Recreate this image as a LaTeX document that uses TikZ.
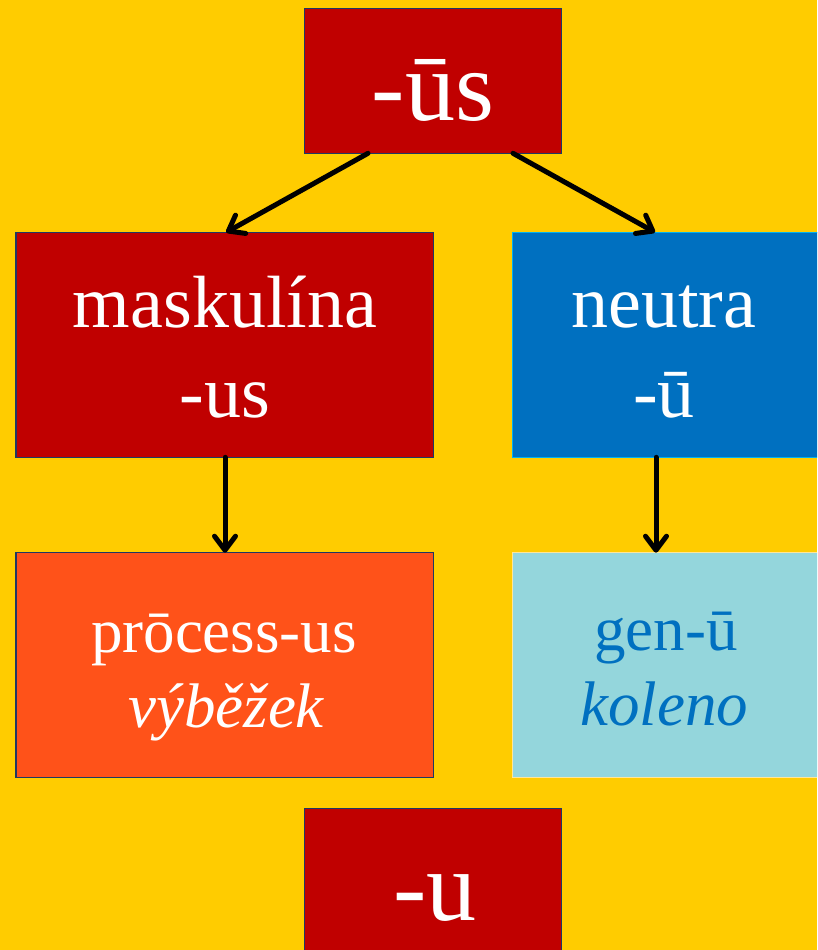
\documentclass[tikz,border=0pt]{standalone}
\usepackage{fontspec}
\setmainfont{Liberation Serif}
\usetikzlibrary{arrows.meta,calc}
\definecolor{bgyellow}{RGB}{255,204,0}
\definecolor{darkred}{RGB}{192,0,0}
\definecolor{midblue}{RGB}{0,112,192}
\definecolor{orangered}{RGB}{255,82,25}
\definecolor{paleblue}{RGB}{148,214,220}
\definecolor{navyedge}{RGB}{31,56,100}
\definecolor{cyanedge}{RGB}{0,176,240}
\definecolor{paleyellowedge}{RGB}{255,230,153}
\tikzset{
  boxnode/.style={rectangle, draw=navyedge, line width=1.5pt, inner sep=0pt, outer sep=0pt},
  txt/.style={anchor=base, inner sep=0pt, outer sep=0pt},
  big/.style={txt, font=\fontsize{100}{100}\selectfont, text=white},
  mid/.style={txt, font=\fontsize{74}{74}\selectfont, text=white},
  small/.style={txt, font=\fontsize{63}{63}\selectfont},
  conn/.style={line width=5pt, line cap=round, -{Straight Barb[length=14pt,width=21pt,round]}}
}
\begin{document}
\begin{tikzpicture}[x=1pt,y=-1pt]
\clip (0,0) rectangle (817,950);
\fill[bgyellow] (0,0) rectangle (817,950);
% boxes
\node[boxnode, fill=darkred, minimum width=257.4pt, minimum height=145pt] (top) at (433,80.8) {};
\node[boxnode, fill=darkred, minimum width=417.4pt, minimum height=225pt] (masc) at (224.9,344.8) {};
\node[boxnode, fill=midblue, draw=cyanedge, minimum width=310pt, minimum height=225pt] (neut) at (667.3,344.8) {};
\node[boxnode, fill=orangered, minimum width=417.4pt, minimum height=224.6pt] (proc) at (224.9,665) {};
\node[boxnode, fill=paleblue, draw=paleyellowedge, minimum width=310pt, minimum height=224.6pt] (genu) at (667.3,665) {};
\node[boxnode, fill=darkred, minimum width=257.4pt, minimum height=160pt] (bot) at (433,888.7) {};
% texts
\node[big] (ttop) at (433,120) {-ūs};
\node[mid] (tmasc1) at (225,327) {maskulína};
\node[mid] (tmasc2) at (225,417) {-us};
\node[mid] (tneut1) at (664,327) {neutra};
\node[mid] (tneut2) at (664,417) {-ū};
\node[small, text=white] (tproc1) at (224,652) {prōcess-us};
\node[small, text=white] (tproc2) at (226,727) {\itshape výběžek};
\node[small, text=midblue] (tgen1) at (666,650) {gen-ū};
\node[small, text=midblue] (tgen2) at (664,725) {\itshape koleno};
\node[big] (tbot) at (435,920) {-u};
% connectors
\draw[conn] ([xshift=63.7pt]top.south west) -- ([xshift=1.3pt]masc.north);
\draw[conn] ([xshift=-48.7pt]top.south east) -- ([xshift=-12.3pt]neut.north);
\draw[conn] ([xshift=0.1pt]masc.south) -- ([xshift=0.1pt]proc.north);
\draw[conn] ([xshift=-11.3pt]neut.south) -- ([xshift=-11.3pt]genu.north);
\end{tikzpicture}
\end{document}
